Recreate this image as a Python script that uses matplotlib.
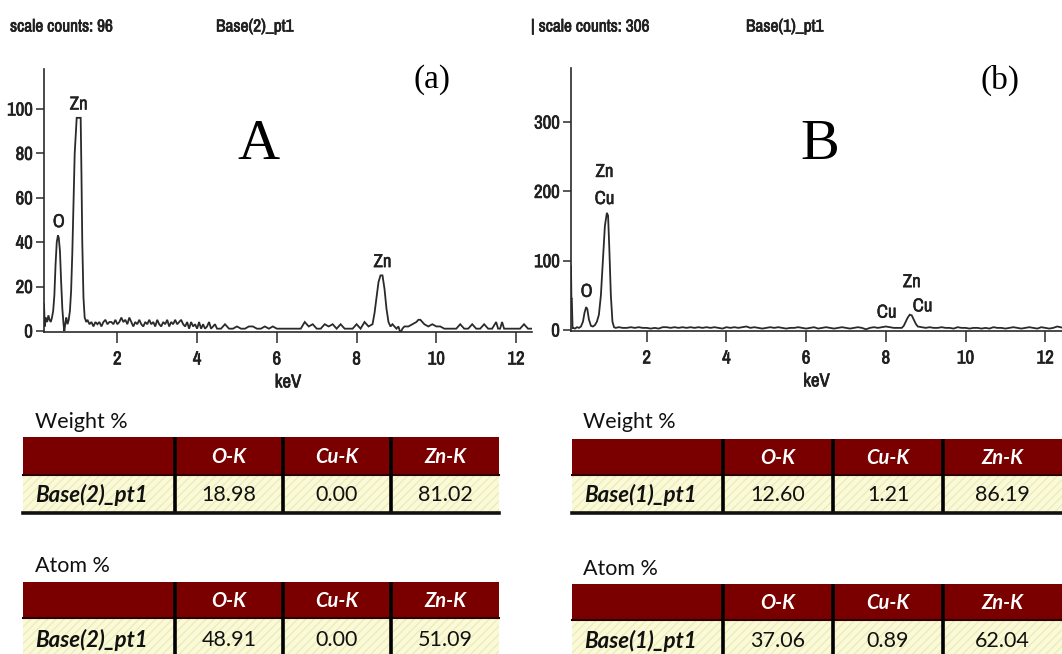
import matplotlib
matplotlib.use("Agg")
import matplotlib.pyplot as plt
from matplotlib.patches import Rectangle
from matplotlib import font_manager as fm
import matplotlib.patheffects as pe

W, H = 1062, 654

# ---------------- data ----------------
a_kev = [0.16, 0.18, 0.21, 0.24, 0.27, 0.30, 0.33, 0.36, 0.39, 0.42, 0.45, 0.48, 0.51, 0.53, 0.56,
         0.59, 0.62, 0.65, 0.67, 0.70, 0.72, 0.75, 0.78, 0.81, 0.84, 0.87, 0.90, 0.93, 0.96, 0.98,
         1.04, 1.08, 1.10, 1.12, 1.15, 1.18, 1.22,
         1.25, 1.30, 1.35, 1.40, 1.45, 1.50, 1.55, 1.60, 1.65, 1.70, 1.75, 1.80, 1.85, 1.90, 1.95,
         2.00, 2.05, 2.10, 2.15, 2.20, 2.25, 2.30, 2.35, 2.40, 2.45, 2.50, 2.55, 2.60, 2.65, 2.70,
         2.75, 2.80, 2.85, 2.90, 2.95, 3.00, 3.05, 3.10, 3.15, 3.20, 3.25, 3.30, 3.35, 3.40, 3.45,
         3.50, 3.55, 3.60, 3.65, 3.70, 3.75, 3.80, 3.85, 3.90, 3.95, 4.00, 4.05, 4.10, 4.15, 4.20,
         4.25, 4.30, 4.35, 4.40, 4.45, 4.50, 4.55,
         4.6, 4.7, 4.8, 4.9, 5.0, 5.1, 5.2, 5.3, 5.4, 5.5, 5.6, 5.7, 5.8, 5.9, 6.0, 6.1, 6.2, 6.3,
         6.4, 6.5, 6.6, 6.7, 6.8, 6.9, 7.0, 7.1, 7.2, 7.3, 7.4, 7.5, 7.6, 7.7, 7.8, 7.9, 8.0, 8.1,
         8.2, 8.3, 8.4, 8.45, 8.5, 8.55, 8.6, 8.65, 8.7, 8.75, 8.8, 8.85, 8.9, 9.0, 9.05, 9.1, 9.15,
         9.2, 9.3, 9.4, 9.5, 9.55, 9.6, 9.65, 9.7, 9.8, 9.9, 10.0, 10.1, 10.2, 10.3, 10.4, 10.5,
         10.6, 10.7, 10.8, 10.9, 11.0, 11.1, 11.2, 11.3, 11.4, 11.5, 11.55, 11.6, 11.65, 11.7,
         11.8, 11.9, 12.0, 12.1, 12.2, 12.3, 12.4]
a_counts = [12, 2, 6, 4, 7, 5, 4, 6, 9, 16, 30, 40, 43, 42, 36,
            22, 10, 3, 0, 4, 6, 3, 5, 9, 18, 35, 58, 80, 90, 96,
            96, 96, 70, 40, 15, 6, 4,
            5, 3, 4, 2, 4, 3, 4, 2, 4, 5, 3, 4, 4, 3, 5,
            3, 4, 6, 4, 5, 3, 6, 4, 2, 4, 3, 5, 3, 2, 4,
            3, 5, 3, 4, 2, 5, 3, 2, 4, 3, 5, 2, 4, 3, 5,
            3, 4, 5, 3, 2, 4, 1, 4, 2, 3, 1, 4, 1, 3, 1,
            2, 4, 1, 2, 3, 1, 1,
            1, 3, 1, 1, 2, 1, 1, 2, 2, 1, 1, 2, 1, 2, 1, 1, 1, 1,
            1, 1, 1, 4, 2, 3, 1, 1, 3, 2, 3, 1, 3, 1, 1, 1, 3, 1,
            4, 2, 3, 8, 15, 22, 25, 25, 19, 10, 4, 2, 3, 1, 2, -1, 1,
            2, 2, 3, 4, 5, 5, 4, 3, 2, 3, 2, 2, 1, 1, 1, 1,
            3, 1, 1, 3, 1, 1, 3, 1, 1, 4, 1, 1, 4, 1,
            1, 1, 1, 1, 3, 1, 1]

b_kev = [0.10, 0.11, 0.12, 0.14, 0.15, 0.20, 0.25, 0.30, 0.35, 0.40, 0.44, 0.48, 0.51, 0.55,
         0.60, 0.65, 0.70, 0.75, 0.80, 0.85, 0.90, 0.95, 1.00, 1.03, 1.06, 1.10, 1.14, 1.18, 1.22,
         1.3, 1.4, 1.5, 1.6, 1.7, 1.8, 1.9, 2.0, 2.1, 2.2, 2.3, 2.4, 2.5, 2.6, 2.7, 2.8, 2.9,
         3.0, 3.1, 3.2, 3.3, 3.4, 3.5, 3.6, 3.7, 3.8, 3.9, 4.0, 4.1, 4.2, 4.3, 4.4, 4.5, 4.6,
         4.7, 4.8, 4.9, 5.0, 5.1, 5.2, 5.3, 5.4, 5.5, 5.6, 5.7, 5.8, 5.9, 6.0, 6.1, 6.2, 6.3,
         6.4, 6.5, 6.6, 6.7, 6.8, 6.9, 7.0, 7.1, 7.2, 7.3, 7.4, 7.5, 7.6, 7.7, 7.8, 7.9, 8.0,
         8.1, 8.2, 8.3, 8.4, 8.45, 8.5, 8.55, 8.6, 8.65, 8.7, 8.75, 8.8, 8.9, 9.0, 9.1, 9.2,
         9.3, 9.4, 9.5, 9.6, 9.7, 9.8, 9.9, 10.0, 10.1, 10.2, 10.3, 10.4, 10.5, 10.6, 10.7,
         10.8, 10.9, 11.0, 11.1, 11.2, 11.3, 11.4, 11.5, 11.6, 11.7, 11.8, 11.9, 12.0, 12.1,
         12.2, 12.3, 12.45]
b_counts = [92, 45, 45, 2, 3, 2, 4, 3, 5, 12, 25, 33, 30, 15,
            6, 5, 7, 12, 22, 50, 100, 150, 169, 165, 120, 50, 12, 4, 3,
            4, 3, 3, 4, 3, 4, 3, 3, 2, 3, 2, 4, 4, 3, 4, 3, 4,
            3, 4, 3, 4, 3, 4, 3, 4, 3, 2, 4, 3, 4, 3, 4, 5, 3,
            4, 3, 2, 3, 4, 3, 4, 3, 2, 3, 3, 4, 3, 2, 3, 4, 2,
            3, 4, 3, 2, 3, 4, 3, 2, 3, 4, 3, 1, 3, 4, 3, 4, 5,
            4, 3, 3, 3, 6, 12, 18, 22, 21, 15, 9, 5, 4, 3, 4, 3,
            3, 4, 3, 3, 2, 4, 3, 3, 2, 3, 3, 2, 3, 2, 4,
            3, 3, 2, 3, 4, 3, 2, 3, 4, 3, 2, 4, 3, 2,
            3, 5, 3]

x_ticks = [2, 4, 6, 8, 10, 12]
a_yticks = [0, 20, 40, 60, 80, 100]
b_yticks = [0, 100, 200, 300]

a_peak_labels = [("O", 0.53, 49), ("Zn", 1.03, 102), ("Zn", 8.65, 31)]
b_peak_labels = [("Zn", 0.94, 228), ("Cu", 0.94, 189), ("O", 0.49, 55),
                 ("Cu", 8.02, 25), ("Zn", 8.65, 69), ("Cu", 8.92, 34)]

table_cols = ["O-K", "Cu-K", "Zn-K"]
a_sample = "Base(2)_pt1"
b_sample = "Base(1)_pt1"
a_weight = ["18.98", "0.00", "81.02"]
a_atom = ["48.91", "0.00", "51.09"]
b_weight = ["12.60", "1.21", "86.19"]
b_atom = ["37.06", "0.89", "62.04"]

# ---------------- fonts ----------------
def pick_narrow():
    names = sorted({f.name for f in fm.fontManager.ttflist})
    for key in ("Narrow", "Condensed"):
        for n in names:
            if key in n:
                return {"family": [n, "DejaVu Sans"]}, 1.0
    for f in fm.fontManager.ttflist:
        if f.name == "DejaVu Sans" and str(f.stretch) in ("condensed", "semi-condensed", "575", "600"):
            return {"family": ["DejaVu Sans"], "stretch": "condensed"}, 0.95
    return {"family": ["Liberation Sans", "DejaVu Sans"]}, 0.9


NARROW_KW, NSCALE = pick_narrow()
SERIF = ["Liberation Serif", "DejaVu Serif"]
TAB = ["Lato", "DejaVu Sans"]
LINE = "#2a2a2a"
TXT = "#202020"
HEAD = "#7a0000"
ROWBG = "#fafad6"

fig = plt.figure(figsize=(W / 100, H / 100), dpi=100)
fig.patch.set_facecolor("white")


def ax_px(left, top, right, bottom, **kw):
    return fig.add_axes([left / W, 1 - bottom / H, (right - left) / W, (bottom - top) / H], **kw)


def ntext(obj, size, bold=True):
    for k, v in NARROW_KW.items():
        getattr(obj, "set_" + k)(v)
    obj.set_fontsize(size * NSCALE)
    obj.set_fontweight("bold" if bold else "normal")
    obj.set_color(TXT)
    obj.set_path_effects([pe.withStroke(linewidth=0.5 if bold else 0.35, foreground=TXT)])


def spectrum(ax, kev, counts, xlim, ylim, yticks, labels):
    ax.plot(kev, counts, color=LINE, lw=1.3, solid_joinstyle="miter")
    ax.set_xlim(*xlim)
    ax.set_ylim(*ylim)
    for s in ("top", "right"):
        ax.spines[s].set_visible(False)
    for s in ("left", "bottom"):
        ax.spines[s].set_linewidth(1.2)
        ax.spines[s].set_color(LINE)
    ax.set_xticks(x_ticks)
    ax.set_yticks(yticks)
    ax.tick_params(axis="x", direction="out", length=8, width=1.1, pad=6, colors=LINE)
    ax.tick_params(axis="y", direction="out", length=6, width=1.1, pad=2, colors=LINE)
    for lab in ax.get_xticklabels() + ax.get_yticklabels():
        ntext(lab, 13.5)
    xl = ax.set_xlabel("keV", labelpad=5)
    ntext(xl, 13.5)
    for txt, x, y in labels:
        t = ax.text(x, y, txt, ha="center", va="center")
        ntext(t, 13.5, bold=False)
    ax.patch.set_alpha(0)


axa = ax_px(44, 69, 532, 332)
spectrum(axa, a_kev, a_counts, (0.16, 12.4), (-0.5, 118), a_yticks, a_peak_labels)
axb = ax_px(571, 68, 1062, 331)
spectrum(axb, b_kev, b_counts, (0.10, 12.42), (-1.5, 378), b_yticks, b_peak_labels)

# ---------------- overlay for texts and tables ----------------
ov = ax_px(0, 0, W, H)
ov.set_xlim(0, W)
ov.set_ylim(H, 0)
ov.axis("off")
ov.patch.set_alpha(0)

for txt, x, ha in (("scale counts: 96", 10, "left"), (a_sample, 255, "center"),
                   ("| scale counts: 306", 531, "left"), (b_sample, 785, "center")):
    t = ov.text(x, 27, txt, ha=ha, va="center")
    ntext(t, 12.5)

ov.text(432, 80, "(a)", ha="center", va="center", family=SERIF, fontsize=24, color="black")
ov.text(258, 145, "A", ha="center", va="center", family=SERIF, fontsize=42, color="black")
ov.text(1000, 80, "(b)", ha="center", va="center", family=SERIF, fontsize=24, color="black")
ov.text(820, 145, "B", ha="center", va="center", family=SERIF, fontsize=42, color="black")


def table(xe, title_x, title_y, top, mid, bot, title, sample, vals, bottom_line=True):
    ov.text(title_x, title_y, title, ha="left", va="center", family=TAB, fontsize=15.5, color="#111111")
    ov.add_patch(Rectangle((xe[0], top), xe[-1] - xe[0], mid - top, facecolor=HEAD,
                           edgecolor="none", zorder=1))
    ov.add_patch(Rectangle((xe[0], mid), xe[-1] - xe[0], bot - mid, facecolor=ROWBG,
                           edgecolor="#ecebc0", hatch="////", linewidth=0, zorder=1))
    ov.plot([xe[0], xe[-1]], [mid, mid], color="#2a0000", lw=1.5, zorder=2)
    for x in xe[1:-1]:
        ov.plot([x, x], [top, bot], color="black", lw=2.6, zorder=3, solid_capstyle="butt")
    if bottom_line:
        ov.plot([xe[0], xe[-1]], [bot, bot], color="#111111", lw=2.6, zorder=3)
    for i, c in enumerate(table_cols):
        ov.text((xe[i + 1] + xe[i + 2]) / 2, (top + mid) / 2 + 1, c, ha="center", va="center",
                family=TAB, fontsize=14.5, fontweight="bold", fontstyle="italic", color="white", zorder=4)
        ov.text((xe[i + 1] + xe[i + 2]) / 2, (mid + bot) / 2 + 1, vals[i], ha="center", va="center",
                family=TAB, fontsize=15.5, color="#111111", zorder=4)
    ov.text(xe[0] + 12, (mid + bot) / 2 + 1, sample, ha="left", va="center", family=TAB,
            fontsize=16, fontweight="bold", fontstyle="italic", color="#111111", zorder=4)


a_edges = [23, 175, 283, 391, 499]
b_edges = [572, 723, 833, 943, 1062]
table(a_edges, 35, 422, 437, 475, 513, "Weight %", a_sample, a_weight)
table(a_edges, 35, 566, 582, 618, 660, "Atom %", a_sample, a_atom, bottom_line=False)
table(b_edges, 583, 422, 439, 475, 513, "Weight %", b_sample, b_weight)
table(b_edges, 583, 569, 584, 620, 660, "Atom %", b_sample, b_atom, bottom_line=False)

fig.savefig("out.png", dpi=100, facecolor="white")
